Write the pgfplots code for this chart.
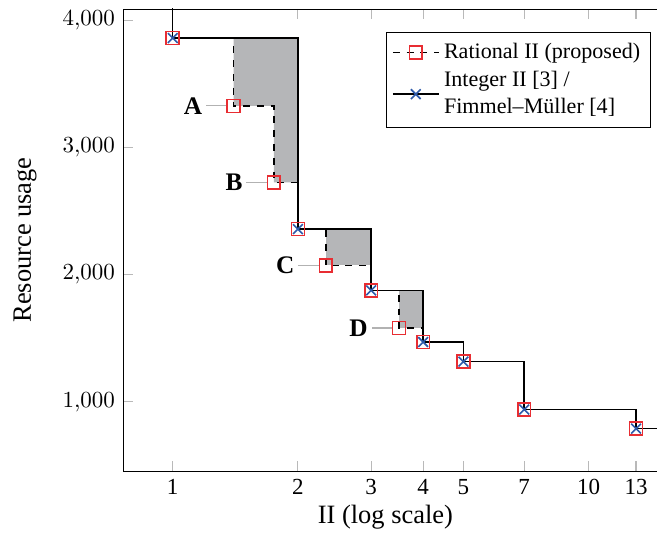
\documentclass[border=0pt]{standalone}
\usepackage{pgfplots}
\pgfplotsset{compat=1.18}
\usepackage{fontspec}
\setmainfont{Liberation Serif}
\definecolor{shade}{RGB}{181,182,184}
\definecolor{sqred}{RGB}{232,45,50}
\definecolor{xblue}{RGB}{45,90,170}
\newcommand{\callout}[3]{%
  \draw[gray!60, line width=0.5pt] ([xshift=-2.9pt]axis cs:#1,#2) -- ++(-9pt,0pt)
    node[left, inner sep=1.5pt, text=black, font=\fontsize{11}{13}\selectfont\bfseries] {#3};}

\begin{document}
\begin{tikzpicture}
\begin{axis}[
  scale only axis,
  width=232.2pt, height=200.9pt,
  xmode=log,
  xmin=0.7595, xmax=14.6,
  ymin=457, ymax=4090,
  axis y line*=left,
  xtick={1,2,3,4,5,7,10,13},
  xticklabels={1,2,3,4,5,7,10,13},
  minor xtick={},
  ytick={1000,2000,3000,4000},
  tick style={gray!55, line width=0.5pt},
  tick align=inside,
  x tick label style={font=\fontsize{10}{12}\selectfont},
  y tick label style={font=\fontsize{10}{12}\selectfont},
  xlabel={II (log scale)},
  ylabel={Resource usage},
  every axis x label/.style={at={(rel axis cs:0.5,0)}, yshift=-20pt, xshift=-2pt,
    anchor=center, font=\fontsize{11.5}{13}\selectfont},
  every axis y label/.style={at={(rel axis cs:0,0.5)}, xshift=-42.6pt, rotate=90,
    anchor=center, font=\fontsize{11.5}{13}\selectfont},
  legend style={at={(0.989,0.95)}, anchor=north east, draw=black, line width=0.5pt,
    font=\fontsize{9.6}{12}\selectfont, cells={align=left, anchor=west},
    inner sep=2.5pt, row sep=0pt},
  legend cell align=left,
  legend image code/.code={\draw[#1, sharp plot, mark repeat=2, mark phase=2]
    plot coordinates {(0cm,0cm) (0.35cm,0cm) (0.7cm,0cm)};},
]
% shaded gaps between the two step curves
\addplot[fill=shade, draw=none, forget plot] coordinates {
  (1.4,3861) (2,3861) (2,2726) (1.75,2726) (1.75,3328) (1.4,3328)} -- cycle;
\addplot[fill=shade, draw=none, forget plot] coordinates {
  (2.333,2359) (3,2359) (3,2073) (2.333,2073)} -- cycle;
\addplot[fill=shade, draw=none, forget plot] coordinates {
  (3.5,1877) (4,1877) (4,1581) (3.5,1581)} -- cycle;

% tails running out of the axis
\addplot[black, line width=0.65pt, forget plot] coordinates {(1,3861) (1,5000)};
\addplot[black, line width=0.65pt, forget plot] coordinates {(13,790) (20,790)};

\addplot[const plot mark left, black, dashed, line width=0.65pt,
  mark=square, mark size=2.8pt,
  mark options={solid, draw=sqred, line width=0.7pt}] coordinates {
  (1,3861) (1.4,3328) (1.75,2726) (2,2359) (2.333,2073) (3,1877)
  (3.5,1581) (4,1471) (5,1317) (7,940) (13,790)};
\addlegendentry{Rational II (proposed)}

\addplot[const plot mark left, black, line width=0.65pt,
  mark=x, mark size=3pt,
  mark options={draw=xblue, line width=0.7pt}] coordinates {
  (1,3861) (2,2359) (3,1877) (4,1471) (5,1317) (7,940) (13,790)};
\addlegendentry{Integer II [3] /\\Fimmel–Müller [4]}

\callout{1.4}{3328}{A}
\callout{1.75}{2726}{B}
\callout{2.333}{2073}{C}
\callout{3.5}{1581}{D}
\end{axis}
\pgfresetboundingbox
\path ([xshift=-53.5pt,yshift=-30pt]current axis.south west) rectangle
  ([yshift=3.9pt]current axis.north east);
\end{tikzpicture}
\end{document}
